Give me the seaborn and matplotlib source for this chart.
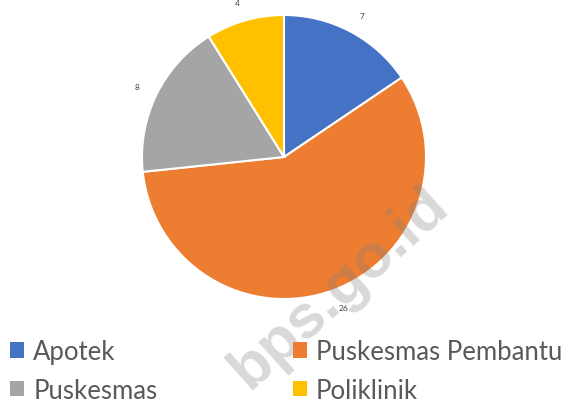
import matplotlib
matplotlib.use("Agg")
import matplotlib.pyplot as plt
import seaborn as sns

# data
categories = ["Apotek", "Puskesmas Pembantu", "Puskesmas", "Poliklinik"]
values = [7, 26, 8, 4]
colors = ["#4472C4", "#ED7D31", "#A5A5A5", "#FFC000"]

sns.set_theme(style="white")
plt.rcParams["font.family"] = ["Lato", "DejaVu Sans"]

W, H = 569, 406
fig = plt.figure(figsize=(W / 100, H / 100), dpi=100)
fig.patch.set_facecolor("white")

# pie centre (284,158) px, radius 142 px
cx, cy, r = 284, 158, 142
ax = fig.add_axes([(cx - r) / W, (H - cy - r) / H, 2 * r / W, 2 * r / H])
wedges, texts = ax.pie(
    values,
    colors=colors,
    labels=[str(v) for v in values],
    startangle=90,
    counterclock=False,
    labeldistance=1.13,
    wedgeprops=dict(edgecolor="white", linewidth=1.5),
    textprops=dict(fontsize=6, color="#404040"),
)
ax.set_xlim(-1, 1)
ax.set_ylim(-1, 1)
ax.set_aspect("equal")
ax.axis("off")

# legends (two columns, laid out row-wise)
leg_kw = dict(
    frameon=False,
    fontsize=18.5,
    handlelength=0.55,
    handleheight=0.55,
    handletextpad=0.35,
    labelspacing=0.53,
    borderpad=0,
    borderaxespad=0,
    loc="upper left",
)
for col, x0 in [(0, 10), (1, 293)]:
    idx = [0, 2] if col == 0 else [1, 3]
    leg = fig.legend(
        [wedges[i] for i in idx],
        [categories[i] for i in idx],
        bbox_to_anchor=(x0 / W, 1 - 340 / H),
        **leg_kw,
    )
    for t in leg.get_texts():
        t.set_color("#595959")
    for hnd in leg.legend_handles:
        hnd.set_edgecolor("none")

# watermark
fig.text(
    340 / W, 1 - 288 / H, "bps.go.id",
    fontsize=44, fontweight="bold", color="#808080", alpha=0.3,
    rotation=42, ha="center", va="center", family="Liberation Sans",
)

fig.savefig("out.png", dpi=100, facecolor="white")
